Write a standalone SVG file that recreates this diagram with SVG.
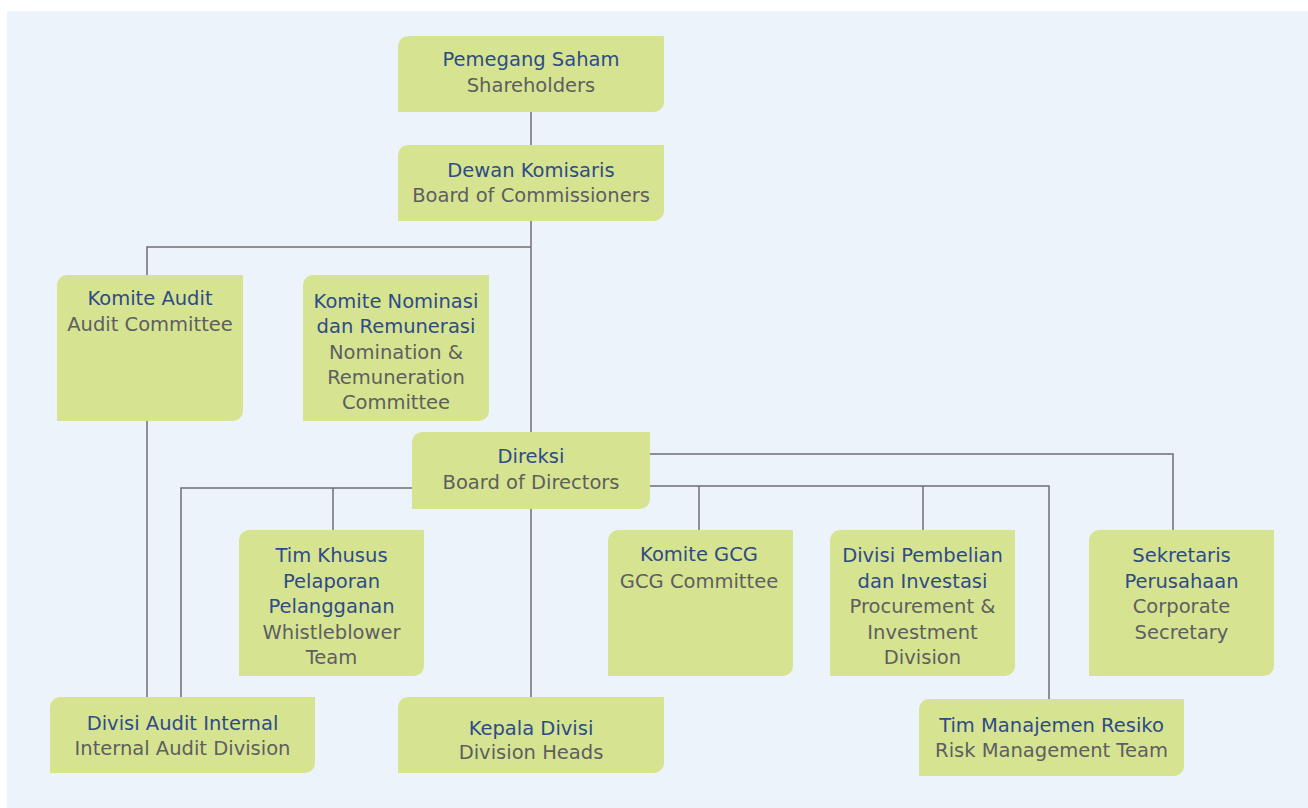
<svg xmlns="http://www.w3.org/2000/svg" width="1308" height="808" viewBox="0 0 1308 808">
<style>
.box{fill:#D6E491}
.ln{fill:none;stroke:#6E6F73;stroke-width:1.5}
text{font-family:"DejaVu Sans","Liberation Sans",sans-serif;font-size:19.5px;text-anchor:middle}
.t{fill:#2F4B86}
.s{fill:#5E5E60}
</style>
<rect x="0" y="0" width="1308" height="808" fill="#FFFFFF"/>
<rect x="7" y="11" width="1301" height="797" fill="#EDF3FB"/>
<g id="connectors">
<path class="ln" d="M531,112 V145"/>
<path class="ln" d="M531,221 V432"/>
<path class="ln" d="M147,275 V247 H531"/>
<path class="ln" d="M147,421 V697"/>
<path class="ln" d="M531,509 V697"/>
<path class="ln" d="M412,488 H181 V697"/>
<path class="ln" d="M333,488 V530"/>
<path class="ln" d="M650,454 H1173 V530"/>
<path class="ln" d="M650,486 H1049 V699"/>
<path class="ln" d="M699,486 V530"/>
<path class="ln" d="M923,486 V530"/>
</g>
<g id="shareholders">
<path class="box" d="M408,36 H664 V102 A10 10 0 0 1 654,112 H398 V46 A10 10 0 0 1 408,36 Z"/>
<text class="t" x="531" y="66">Pemegang Saham</text>
<text class="s" x="531" y="92">Shareholders</text>
</g>
<g id="commissioners">
<path class="box" d="M408,145 H664 V211 A10 10 0 0 1 654,221 H398 V155 A10 10 0 0 1 408,145 Z"/>
<text class="t" x="531" y="176.5">Dewan Komisaris</text>
<text class="s" x="531" y="201.5">Board of Commissioners</text>
</g>
<g id="audit-committee">
<path class="box" d="M67,275 H243 V411 A10 10 0 0 1 233,421 H57 V285 A10 10 0 0 1 67,275 Z"/>
<text class="t" x="150" y="304.5">Komite Audit</text>
<text class="s" x="150" y="330.5">Audit Committee</text>
</g>
<g id="nomination-committee">
<path class="box" d="M313,275 H489 V411 A10 10 0 0 1 479,421 H303 V285 A10 10 0 0 1 313,275 Z"/>
<text class="t" x="396" y="308">Komite Nominasi</text>
<text class="t" x="396" y="333">dan Remunerasi</text>
<text class="s" x="396" y="358.5">Nomination &amp;</text>
<text class="s" x="396" y="383.5">Remuneration</text>
<text class="s" x="396" y="408.5">Committee</text>
</g>
<g id="directors">
<path class="box" d="M422,432 H650 V499 A10 10 0 0 1 640,509 H412 V442 A10 10 0 0 1 422,432 Z"/>
<text class="t" x="531" y="462.5">Direksi</text>
<text class="s" x="531" y="489">Board of Directors</text>
</g>
<g id="whistleblower-team">
<path class="box" d="M249,530 H424 V666 A10 10 0 0 1 414,676 H239 V540 A10 10 0 0 1 249,530 Z"/>
<text class="t" x="331.5" y="561.5">Tim Khusus</text>
<text class="t" x="331.5" y="587.5">Pelaporan</text>
<text class="t" x="331.5" y="612.5">Pelangganan</text>
<text class="s" x="331.5" y="638.5">Whistleblower</text>
<text class="s" x="331.5" y="663.5">Team</text>
</g>
<g id="gcg-committee">
<path class="box" d="M618,530 H793 V666 A10 10 0 0 1 783,676 H608 V540 A10 10 0 0 1 618,530 Z"/>
<text class="t" x="699" y="561">Komite GCG</text>
<text class="s" x="699" y="587.5">GCG Committee</text>
</g>
<g id="procurement-division">
<path class="box" d="M840,530 H1015 V666 A10 10 0 0 1 1005,676 H830 V540 A10 10 0 0 1 840,530 Z"/>
<text class="t" x="922.5" y="561.5">Divisi Pembelian</text>
<text class="t" x="922.5" y="587.5">dan Investasi</text>
<text class="s" x="922.5" y="612.5">Procurement &amp;</text>
<text class="s" x="922.5" y="638.5">Investment</text>
<text class="s" x="922.5" y="664">Division</text>
</g>
<g id="corporate-secretary">
<path class="box" d="M1099,530 H1274 V666 A10 10 0 0 1 1264,676 H1089 V540 A10 10 0 0 1 1099,530 Z"/>
<text class="t" x="1181.5" y="561.5">Sekretaris</text>
<text class="t" x="1181.5" y="587.5">Perusahaan</text>
<text class="s" x="1181.5" y="612.5">Corporate</text>
<text class="s" x="1181.5" y="638.5">Secretary</text>
</g>
<g id="risk-management-team">
<path class="box" d="M929,699 H1184 V766 A10 10 0 0 1 1174,776 H919 V709 A10 10 0 0 1 929,699 Z"/>
<text class="t" x="1051.5" y="731.5">Tim Manajemen Resiko</text>
<text class="s" x="1051.5" y="756.5">Risk Management Team</text>
</g>
<g id="internal-audit-division">
<path class="box" d="M60,697 H315 V763 A10 10 0 0 1 305,773 H50 V707 A10 10 0 0 1 60,697 Z"/>
<text class="t" x="182.5" y="730">Divisi Audit Internal</text>
<text class="s" x="182.5" y="754.5">Internal Audit Division</text>
</g>
<g id="division-heads">
<path class="box" d="M408,697 H664 V763 A10 10 0 0 1 654,773 H398 V707 A10 10 0 0 1 408,697 Z"/>
<text class="t" x="531" y="734.5">Kepala Divisi</text>
<text class="s" x="531" y="759">Division Heads</text>
</g>
</svg>
